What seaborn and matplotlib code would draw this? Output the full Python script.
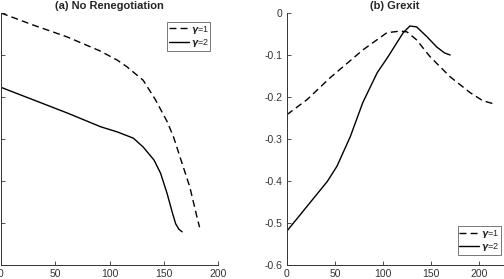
import numpy as np
import pandas as pd
import matplotlib
matplotlib.use("Agg")
import matplotlib.pyplot as plt
import seaborn as sns

# ---- data ----
a_x1 = [0, 30, 61, 91, 107, 116, 131, 142, 153, 159, 165, 174, 181, 183]
a_y1 = [0.0, -0.029, -0.057, -0.09, -0.112, -0.128, -0.16, -0.205, -0.258, -0.295, -0.343, -0.414, -0.49, -0.51]
a_x2 = [0, 30, 61, 92, 107, 122, 131, 141, 147, 153, 158, 161, 164, 167]
a_y2 = [-0.177, -0.207, -0.238, -0.271, -0.283, -0.298, -0.319, -0.35, -0.381, -0.429, -0.476, -0.502, -0.515, -0.521]

b_x1 = [0, 21, 45, 79, 104, 118, 125, 135, 149, 170, 191, 204, 215]
b_y1 = [-0.242, -0.206, -0.154, -0.088, -0.047, -0.043, -0.045, -0.064, -0.104, -0.152, -0.19, -0.209, -0.216]
b_x2 = [0, 21, 42, 52, 66, 79, 94, 105, 121, 128, 135, 146, 156, 164, 170]
b_y2 = [-0.519, -0.46, -0.401, -0.365, -0.294, -0.213, -0.142, -0.105, -0.047, -0.031, -0.033, -0.057, -0.081, -0.095, -0.1]

labels = [r'$\boldsymbol{\gamma}$=1', r'$\boldsymbol{\gamma}$=2']
titles = ['(a) No Renegotiation', '(b) Grexit']
xticks = [0, 50, 100, 150, 200]
yticks = [0, -0.1, -0.2, -0.3, -0.4, -0.5, -0.6]
ytick_labels = ['0', '-0.1', '-0.2', '-0.3', '-0.4', '-0.5', '-0.6']

sns.set_style("white")
plt.rcParams['font.family'] = ['Liberation Sans', 'DejaVu Sans']
plt.rcParams['mathtext.fontset'] = 'dejavusans'

fig = plt.figure(figsize=(5.04, 2.79), dpi=100)
ax1 = fig.add_axes([1/504, 14/279, 217/504, 252/279])
ax2 = fig.add_axes([287/504, 14/279, 216/504, 252/279])

panels = [(ax1, a_x1, a_y1, a_x2, a_y2, 200, 'upper right', (0.965, 0.965)),
          (ax2, b_x1, b_y1, b_x2, b_y2, 225, 'lower right', (0.99, 0.04))]

for i, (ax, x1, y1, x2, y2, xmax, loc, anchor) in enumerate(panels):
    sns.lineplot(x=x1, y=y1, ax=ax, color='black', linestyle=(0, (5, 3)), linewidth=1.0, label=labels[0])
    sns.lineplot(x=x2, y=y2, ax=ax, color='black', linestyle='-', linewidth=1.0, label=labels[1])
    ax.set_xlim(0, xmax)
    ax.set_ylim(-0.6, 0)
    ax.set_xticks(xticks)
    ax.set_yticks(yticks)
    if i == 0:
        ax.set_yticklabels([''] * len(yticks))
    else:
        ax.set_yticklabels(ytick_labels)
    ax.tick_params(direction='in', length=3, width=0.6, labelsize=7.5, colors='#333333', pad=3,
                   left=True, bottom=True)
    for s in ['top', 'right']:
        ax.spines[s].set_visible(False)
    for s in ['left', 'bottom']:
        ax.spines[s].set_linewidth(0.7)
        ax.spines[s].set_color('#333333')
    ax.set_title(titles[i], fontsize=8, fontweight='bold', pad=3)
    leg = ax.legend(loc=loc, bbox_to_anchor=anchor, fontsize=6.5, frameon=True, fancybox=False,
                    handlelength=2.2, handletextpad=0.2, borderpad=0.2, labelspacing=0.15,
                    borderaxespad=0.0)
    leg.get_frame().set_edgecolor('#555555')
    leg.get_frame().set_linewidth(0.7)

fig.savefig('out.png', dpi=100)
